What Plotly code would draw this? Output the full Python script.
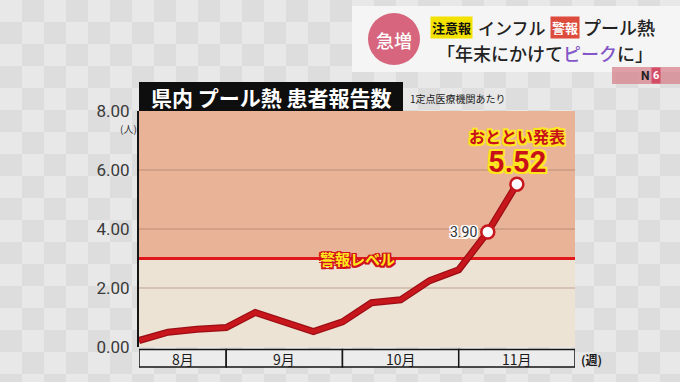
import plotly.graph_objects as go

# ---------------- data ----------------
week_index = [0, 1, 2, 3, 4, 5, 6, 7, 8, 9, 10, 11, 12, 13]
patients = [0.22, 0.50, 0.60, 0.66, 1.17, 0.86, 0.52, 0.85, 1.50, 1.60, 2.25, 2.62, 3.90, 5.52]
months = ["8月", "9月", "10月", "11月"]
month_bounds = [0, 3, 7, 11, 15]
y_ticks = [0, 2, 4, 6, 8]
y_tick_labels = ["0.00", "2.00", "4.00", "6.00", "8.00"]
warning_level = 3
y_max = 8

title_text = "県内 プール熱 患者報告数"
subtitle_text = "1定点医療機関あたり"
warning_text = "警報レベル"
latest_text = "おととい発表"

# ---------------- layout helpers ----------------
WIDTH, HEIGHT = 680, 382
L, R, T, B = 139, 575, 111, 347
PW, PH = R - L, B - T


def px(x):
    return (x - L) / PW


def py(y):
    return 1 - (y - T) / PH


JP = "Noto Sans CJK JP"
RED = "#c8161d"
DARKRED = "#9c0e14"

fig = go.Figure()

fig.add_trace(go.Scatter(
    x=week_index, y=patients, mode="lines",
    line=dict(color=DARKRED, width=7), hoverinfo="skip", showlegend=False,
))
fig.add_trace(go.Scatter(
    x=week_index, y=patients, mode="lines",
    line=dict(color=RED, width=4.5), hoverinfo="skip", showlegend=False,
))
fig.add_trace(go.Scatter(
    x=week_index[-2:], y=patients[-2:], mode="markers",
    marker=dict(size=13, color="white", line=dict(color=RED, width=2.5)),
    hoverinfo="skip", showlegend=False,
))

shapes = []
# checker background
tile = 22
for i in range(0, WIDTH // tile + 1):
    for j in range(0, HEIGHT // tile + 1):
        if (i + j) % 2 == 0:
            shapes.append(dict(
                type="rect", xref="paper", yref="paper", layer="below",
                x0=px(i * tile), x1=px((i + 1) * tile),
                y0=py(j * tile), y1=py((j + 1) * tile),
                fillcolor="#e8e8e8", line=dict(width=0),
            ))

# caption panel
shapes.append(dict(type="rect", xref="paper", yref="paper", layer="below",
                   x0=px(352), x1=px(680), y0=py(72), y1=py(6),
                   fillcolor="rgba(246,246,246,0.95)", line=dict(width=0)))
shapes.append(dict(type="circle", xref="paper", yref="paper", layer="above",
                   x0=px(368), x1=px(420), y0=py(65), y1=py(13),
                   fillcolor="#d6657d", line=dict(width=0)))
# N6 badge
shapes.append(dict(type="rect", xref="paper", yref="paper", layer="above",
                   x0=px(612), x1=px(680), y0=py(84), y1=py(67),
                   fillcolor="rgba(214,130,140,0.75)", line=dict(width=0)))

# plot backgrounds
shapes.append(dict(type="rect", xref="x", yref="y", layer="below",
                   x0=month_bounds[0], x1=month_bounds[-1], y0=warning_level, y1=y_max,
                   fillcolor="#e9b398", line=dict(width=0)))
shapes.append(dict(type="rect", xref="x", yref="y", layer="below",
                   x0=month_bounds[0], x1=month_bounds[-1], y0=0, y1=warning_level,
                   fillcolor="#ece3d4", line=dict(width=0)))
# warning line
shapes.append(dict(type="line", xref="x", yref="y", layer="below",
                   x0=month_bounds[0], x1=month_bounds[-1], y0=warning_level, y1=warning_level,
                   line=dict(color="#e2171b", width=3)))
# title box
shapes.append(dict(type="rect", xref="paper", yref="paper", layer="above",
                   x0=px(139), x1=px(403), y0=py(111), y1=py(82),
                   fillcolor="#0e0e0e", line=dict(width=0)))
# month boxes
for k in range(len(months)):
    shapes.append(dict(type="rect", xref="x", yref="paper", layer="above",
                       x0=month_bounds[k], x1=month_bounds[k + 1],
                       y0=py(367), y1=py(349.5),
                       fillcolor="#ececec", line=dict(color="#151515", width=1.5)))

annotations = []


def ann(text, x, y, size, color="#222", xanchor="center", yanchor="middle",
        family=JP, weight="normal", shadow=None, bgcolor=None, xref="paper", yref="paper",
        xshift=0, yshift=0, pad=0):
    f = dict(family=family, size=size, color=color, weight=weight)
    if shadow:
        f["shadow"] = shadow
    d = dict(text=text, x=x, y=y, xref=xref, yref=yref, showarrow=False,
             xanchor=xanchor, yanchor=yanchor, font=f, xshift=xshift, yshift=yshift,
             borderpad=pad)
    if bgcolor:
        d["bgcolor"] = bgcolor
    annotations.append(d)


def outline(c, w=1.5):
    return ", ".join(f"{dx}px {dy}px 0 {c}" for dx, dy in
                     [(-w, -w), (w, -w), (-w, w), (w, w), (0, w), (0, -w), (w, 0), (-w, 0)])


# month labels
for k, m in enumerate(months):
    ann(m, (month_bounds[k] + month_bounds[k + 1]) / 2, py(358.5), 14, color="#1a1a1a",
        xref="x")
ann("(週)", px(580), py(359), 12, color="#1a1a1a", xanchor="left", weight="bold")
ann("(人)", px(128), py(128), 10, color="#333")

# title
ann(title_text, px(271), py(97), 21, color="white", weight="bold")
ann(subtitle_text, px(409), py(99), 10, color="#1a1a1a", xanchor="left")

# warning label
ann(warning_text, (month_bounds[0] + month_bounds[-1]) / 2, warning_level, 15,
    color="#ffe61e", weight="bold", xref="x", yref="y",
    shadow=outline("#d2101a", 1.5))

# point labels
ann(f"{patients[-2]:.2f}", week_index[-2], patients[-2], 14, color="#333",
    xanchor="right", xref="x", yref="y", xshift=-10, family="Roboto",
    shadow=outline("white", 1.5))
ann(latest_text, week_index[-1], patients[-1], 16, color="#c8101b", weight="bold",
    xref="x", yref="y", yshift=48, shadow=outline("#ffe61e", 1.8))
ann(f"{patients[-1]:.2f}", week_index[-1], patients[-1], 29, color="#c8101b", weight="bold",
    xref="x", yref="y", yshift=22, family="Roboto", shadow=outline("#ffe61e", 2))

# caption
ann("急増", px(394), py(40), 18, color="white", weight=500)
ann("注意報", px(430), py(27), 13, color="#111", weight="bold", xanchor="left",
    bgcolor="#f3e200", pad=1)
ann("インフル", px(477), py(27), 17, color="#222", xanchor="left", weight=500)
ann("警報", px(550), py(27), 13, color="white", weight="bold", xanchor="left",
    bgcolor="#dd4b3c", pad=1)
ann("プール熱", px(582), py(27), 18, color="#222", xanchor="left", weight=500)
ann("「年末にかけて<span style='color:#8457c8'>ピーク</span>に」", px(545), py(53), 18,
    color="#222", weight=500)
ann("<b>N</b>", px(645), py(75.5), 12, color="#222", family="Roboto")
ann("<b>6</b>", px(656), py(75.5), 11, color="white", family="Roboto", bgcolor="#d44d67", pad=1)

fig.update_layout(
    width=WIDTH, height=HEIGHT, autosize=False,
    margin=dict(l=L, r=WIDTH - R, t=T, b=HEIGHT - B, pad=0),
    paper_bgcolor="#dddddd", plot_bgcolor="rgba(0,0,0,0)",
    shapes=shapes, annotations=annotations, showlegend=False,
    xaxis=dict(range=[month_bounds[0], month_bounds[-1]], visible=False, fixedrange=True),
    yaxis=dict(range=[0, y_max], tickvals=y_ticks, ticktext=y_tick_labels,
               tickfont=dict(family="Roboto", size=17, color="#3a3a3a"),
               showgrid=True, gridcolor="rgba(150,110,90,0.28)", gridwidth=1.5,
               zeroline=False, showline=True, linecolor="#151515", linewidth=2,
               ticks="", ticklabelstandoff=4, fixedrange=True),
)

fig.write_html("out.html", config={"displayModeBar": False},
               post_script="document.body.style.margin='0';document.body.style.overflow='hidden';")
